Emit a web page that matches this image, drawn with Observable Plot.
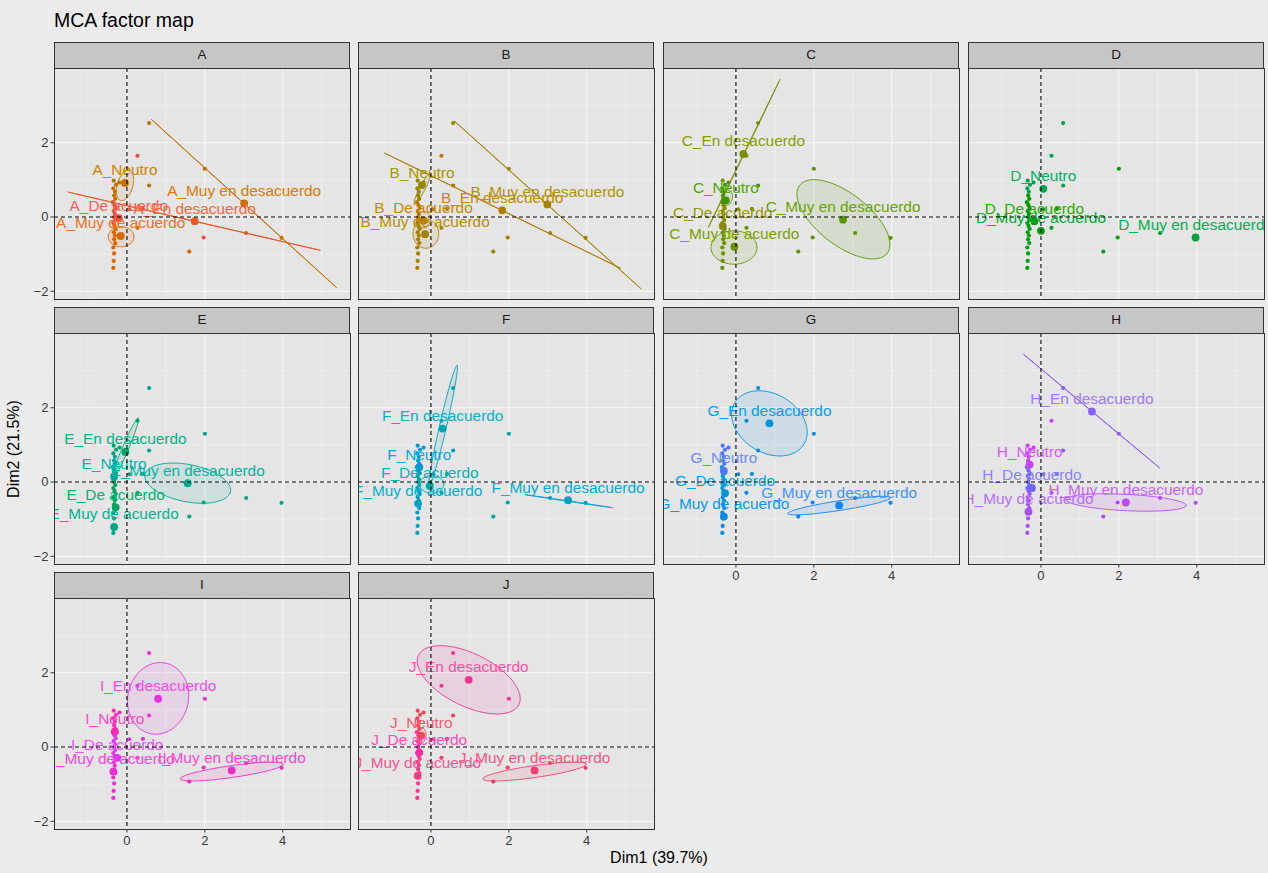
<!DOCTYPE html>
<html>
<head>
<meta charset="utf-8">
<script src="https://cdn.jsdelivr.net/npm/d3@7"></script>
<script src="https://cdn.jsdelivr.net/npm/@observablehq/plot@0.6"></script>
<style>
  body { margin: 0; background: #EBEBEB; font-family: "Liberation Sans", Arial, sans-serif; }
  #chart { position: relative; width: 1268px; height: 873px; background: #EBEBEB; overflow: hidden; }
  .title { position: absolute; left: 54px; top: 9px; font-size: 19.5px; color: #000; white-space: nowrap; }
  .strip { position: absolute; box-sizing: border-box; border: 1px solid #333; background: #C6C6C6;
           color: #1A1A1A; font-size: 13.5px; text-align: center; line-height: 24px; }
  .xtitle { position: absolute; top: 849px; left: 0; width: 1318px; text-align: center; font-size: 16px; color: #000; }
  .ytitle { position: absolute; left: 14px; top: 449px; font-size: 16px; color: #000; white-space: nowrap;
            transform: translate(-50%, -50%) rotate(-90deg); }
</style>
</head>
<body>
<div id="chart">
  <div class="title">MCA factor map</div>
  <div class="xtitle">Dim1 (39.7%)</div>
  <div class="ytitle">Dim2 (21.5%)</div>
</div>
<script>
// ---- data ---------------------------------------------------------------
const variables = ["A", "B", "C", "D", "E", "F", "G", "H", "I", "J"];
const levels = ["De acuerdo", "En desacuerdo", "Muy de acuerdo", "Muy en desacuerdo", "Neutro"];
const levelCodes = ["D", "E", "M", "X", "N"];

// Individuals (rows of the MCA), coordinates on the first two dimensions
const indDim1 = [0.57, 0.27, 2.00, 0.57, 0.06, 0.41, 0.27, 1.97, 3.06, 3.97, 1.60, -0.19,
  -0.34, -0.28, -0.35, -0.31, -0.33, -0.30, -0.36, -0.32, -0.29, -0.34, -0.31, -0.33,
  -0.30, -0.35, -0.32, -0.29, -0.34, -0.31, -0.33, -0.30, -0.35, -0.33, -0.34, -0.35];
const indDim2 = [2.53, 1.65, 1.30, 0.85, 0.21, 0.22, -0.29, -0.55, -0.43, -0.56, -0.93, 0.93,
  0.98, 0.87, 0.77, 0.68, 0.58, 0.49, 0.40, 0.32, 0.24, 0.16, 0.08, 0.00,
  -0.08, -0.16, -0.24, -0.32, -0.41, -0.50, -0.60, -0.70, -0.82, -0.98, -1.18, -1.37];

// Answer of every individual to each variable (one code per individual)
const answers = [
  "XDXNDEMDEXMN" + "NNNNNN" + "DDDDDDDD" + "MMMMMMMMMM", // A
  "XDXEDMMDEXMN" + "NNNNNN" + "DDDDDDDD" + "MMMMMMMMMM", // B
  "EEXNDDMXXXMN" + "ENNNNN" + "DDDDDDDD" + "MMMMMMMMMM", // C
  "NNDNDDMDDXMN" + "NNNNDD" + "DDDDDDMM" + "MMMMMMMMMM", // D
  "NEXXEXDXXXXE" + "EEENNN" + "NNNNDDDD" + "DDDDDDMMMM", // E
  "EEDNEDDDXXDN" + "NNNNNN" + "DDDDDDDD" + "MMMMMMMMMM", // F
  "EEEEDDMXXXXN" + "NNNNNN" + "DDDDDDDD" + "MMMMMMMMMM", // G
  "ENEDDDXXXXXN" + "NNNNNN" + "DDDDDDDD" + "MMMMMMMMMM", // H
  "EEEEDEMXXXXN" + "NNNNNN" + "DDDDDDDD" + "MMMMMMMMMM", // I
  "EEENDDMXXXXN" + "NNNNNN" + "DDDDDDDD" + "MMMMMMMMMM"  // J
];

// Category barycentres
const catVar   = ["A","A","A","A","A", "B","B","B","B","B", "C","C","C","C","C", "D","D","D","D",
                  "E","E","E","E","E", "F","F","F","F","F", "G","G","G","G","G", "H","H","H","H","H",
                  "I","I","I","I","I", "J","J","J","J","J"];
const catLevel = ["D","E","M","X","N", "D","E","M","X","N", "D","E","M","X","N", "D","M","X","N",
                  "D","E","M","X","N", "D","E","M","X","N", "D","E","M","X","N", "D","E","M","X","N",
                  "D","E","M","X","N", "D","E","M","X","N"];
const catDim1  = [-0.21, 1.74, -0.16, 3.01, -0.05,  -0.19, 1.83, -0.15, 2.99, -0.23,
                  -0.34, 0.19, -0.04, 2.75, -0.26,  -0.17, 0.00, 3.97, 0.06,
                  -0.29, -0.04, -0.33, 1.56, -0.33,  -0.03, 0.30, -0.33, 3.52, -0.30,
                  -0.28, 0.86, -0.31, 2.65, -0.31,  -0.23, 1.31, -0.32, 2.18, -0.29,
                  -0.25, 0.80, -0.35, 2.69, -0.31,  -0.30, 0.97, -0.34, 2.66, -0.25];
const catDim2  = [-0.03, -0.11, -0.51, 0.37, 0.92,  -0.09, 0.18, -0.46, 0.34, 0.86,
                  -0.24, 1.70, -0.80, -0.07, 0.45,  -0.11, -0.37, -0.55, 0.76,
                  -0.68, 0.81, -1.21, -0.03, 0.15,  -0.10, 1.44, -0.58, -0.49, 0.40,
                  -0.30, 1.58, -0.93, -0.63, 0.30,  -0.16, 1.90, -0.80, -0.55, 0.47,
                  -0.29, 1.30, -0.66, -0.63, 0.42,  -0.15, 1.81, -0.77, -0.63, 0.31];

// Confidence ellipses: centre, semi-axes and orientation (degrees)
const ellVar   = ["A","A","A","A", "B","B","B","B","B", "C","C","C","C", "E","E", "F","F","F",
                  "G","G", "H","H", "I","I", "J","J","J"];
const ellLevel = ["N","M","E","X", "N","D","M","E","X", "E","N","M","X", "E","X", "E","D","X",
                  "E","X", "E","X", "E","X", "E","N","X"];
const ellCx    = [-0.05, -0.15, 1.72, 3.00,  -0.225, -0.19, -0.13, 1.835, 2.995,  0.21, -0.23, -0.05, 2.76,
                  -0.05, 1.56,  0.315, 0.02, 3.535,  0.86, 2.65,  1.30, 2.18,  0.80, 2.69,  0.97, -0.23, 2.66];
const ellCy    = [0.85, -0.53, -0.11, 0.37,  0.76, -0.07, -0.45, 0.175, 0.33,  1.71, 0.52, -0.82, -0.06,
                  0.88, -0.03,  1.525, -0.06, -0.515,  1.58, -0.635,  1.91, -0.55,  1.31, -0.66,  1.81, 0.31, -0.66];
const ellA     = [0.42, 0.33, 3.33, 3.28,  0.47, 0.22, 0.39, 3.41, 3.29,  2.19, 0.21, 0.59, 1.45,
                  0.91, 1.12,  1.65, 0.31, 1.13,  1.05, 1.34,  2.32, 1.55,  0.97, 1.34,  1.45, 0.20, 1.34];
const ellB     = [0.20, 0.27, 0.004, 0.004,  0.07, 0.18, 0.33, 0.004, 0.004,  0.008, 0.14, 0.45, 0.68,
                  0.08, 0.50,  0.09, 0.24, 0.006,  0.78, 0.13,  0.004, 0.22,  0.78, 0.16,  0.70, 0.10, 0.16];
const ellAngle = [75, 0, -13.6, -43.6,  64, 90, 90, -27.1, -43.3,  65.2, 80, 0, -40,
                  68, -12,  77.6, 0, -8.9,  -35, 9.2,  -41.2, -3,  80, 8.5,  -28, 85, 8.5];

// Axis breaks
const xTicks = [0, 2, 4];
const xMinor = [-1, 1, 3, 5];
const yTicks = [-2, 0, 2];
const yMinor = [-1, 1, 3];
const xDomain = [-1.86, 5.74];
const yDomain = [-2.22, 4.0];

// ---- helpers ------------------------------------------------------------
// polar CIE-LUV (as used by R's hcl()) to sRGB hex
function hcl2hex(h, c, l) {
  const hr = h * Math.PI / 180;
  const U = c * Math.cos(hr), V = c * Math.sin(hr);
  const Xn = 95.047, Yn = 100, Zn = 108.883;
  const Y = l > 8 ? Yn * Math.pow((l + 16) / 116, 3) : Yn * l / 903.3;
  const den = Xn + 15 * Yn + 3 * Zn;
  const un = 4 * Xn / den, vn = 9 * Yn / den;
  const up = U / (13 * l) + un, vp = V / (13 * l) + vn;
  const X = Y * 9 * up / (4 * vp);
  const Z = Y * (12 - 3 * up - 20 * vp) / (4 * vp);
  const x = X / 100, y = Y / 100, z = Z / 100;
  const lin = [
    3.240479 * x - 1.537150 * y - 0.498535 * z,
    -0.969256 * x + 1.875992 * y + 0.041556 * z,
    0.055648 * x - 0.204043 * y + 1.057311 * z
  ];
  const gam = v => {
    v = Math.max(0, Math.min(1, v));
    return v <= 0.0031308 ? 12.92 * v : 1.055 * Math.pow(v, 1 / 2.4) - 0.055;
  };
  return d3.rgb(...lin.map(v => Math.round(gam(v) * 255))).formatHex();
}
// a touch more saturation than the plain wheel
function vivid(hex, k) {
  const c = d3.hsl(hex);
  c.s = Math.min(1, c.s * k);
  return c.formatHex();
}

// discrete hue wheel over all 50 categories
function hueFor(vi, code) {
  const li = levelCodes.indexOf(code);
  return 15 + 360 * (vi * levels.length + li) / (variables.length * levels.length);
}
const pointColor = (vi, code) => vivid(hcl2hex(hueFor(vi, code), 100, 55), 1.25);
const textColor = (vi, code) => vivid(hcl2hex(hueFor(vi, code), 100, 61), 1.2);

function ellipsePath(cx, cy, a, b, angleDeg) {
  const th = angleDeg * Math.PI / 180, n = 90;
  return d3.range(n + 1).map(i => {
    const t = 2 * Math.PI * i / n;
    return {
      x: cx + a * Math.cos(t) * Math.cos(th) - b * Math.sin(t) * Math.sin(th),
      y: cy + a * Math.cos(t) * Math.sin(th) + b * Math.sin(t) * Math.cos(th)
    };
  });
}

// ---- layout -------------------------------------------------------------
const colLeft = [54, 358, 663, 968];
const rowTop = [42, 307, 572];
const panelW = 296, panelH = 231, stripH = 26;
const mL = 32, mR = 4, mT = 2, mB = 24;
const chart = document.getElementById("chart");

variables.forEach((v, vi) => {
  const col = vi % 4, row = Math.floor(vi / 4);
  const left = colLeft[col], top = rowTop[row] + stripH;
  const showY = col === 0;
  const showX = vi >= 6;

  const inds = indDim1.map((x, i) => ({
    x, y: indDim2[i], color: pointColor(vi, answers[vi][i])
  }));
  const cats = catVar.map((cv, i) => ({ v: cv, code: catLevel[i], x: catDim1[i], y: catDim2[i] }))
    .filter(d => d.v === v)
    .map(d => ({ ...d, label: v + "_" + levels[levelCodes.indexOf(d.code)],
                 color: pointColor(vi, d.code), tcolor: textColor(vi, d.code) }));
  const ells = ellVar.map((ev, i) => ({ v: ev, i })).filter(d => d.v === v).map(({ i }) => ({
    pts: ellipsePath(ellCx[i], ellCy[i], ellA[i], ellB[i], ellAngle[i]),
    color: pointColor(vi, ellLevel[i])
  }));

  const marks = [
    Plot.frame({ fill: "#E5E5E5" }),
    Plot.ruleX(xMinor, { stroke: "#F3F3F3", strokeWidth: 0.6 }),
    Plot.ruleY(yMinor, { stroke: "#F3F3F3", strokeWidth: 0.6 }),
    Plot.ruleX(xTicks, { stroke: "#F7F7F7", strokeWidth: 1.1 }),
    Plot.ruleY(yTicks, { stroke: "#F7F7F7", strokeWidth: 1.1 }),
    Plot.dot(inds, { x: "x", y: "y", fill: "color", r: 2.1, stroke: null, clip: true }),
    ...ells.map(e => Plot.line(e.pts, {
      x: "x", y: "y", stroke: e.color, fill: e.color, fillOpacity: 0.1,
      strokeWidth: 0.9, curve: "linear", clip: true
    })),
    Plot.dot(cats, { x: "x", y: "y", fill: "color", r: 3.9, stroke: null, clip: true }),
    Plot.text(cats, { x: "x", y: "y", text: "label", fill: "tcolor", fontSize: 15.4, dy: -12.5, clip: true }),
    Plot.ruleX([0], { stroke: "#000", strokeWidth: 1.1, strokeDasharray: "4,3" }),
    Plot.ruleY([0], { stroke: "#000", strokeWidth: 1.1, strokeDasharray: "4,3" }),
    Plot.frame({ stroke: "#333", strokeWidth: 1 })
  ];
  if (showY) marks.push(Plot.axisY(yTicks, {
    anchor: "left", tickSize: 3.5, tickPadding: 2.5, fontSize: 13, color: "#3A3A3A", label: null
  }));
  if (showX) marks.push(Plot.axisX(xTicks, {
    anchor: "bottom", tickSize: 3.5, tickPadding: 2.5, fontSize: 13, color: "#3A3A3A", label: null
  }));

  const svg = Plot.plot({
    width: panelW + mL + mR,
    height: panelH + mT + mB,
    marginLeft: mL, marginRight: mR, marginTop: mT, marginBottom: mB,
    x: { domain: xDomain, axis: null },
    y: { domain: yDomain, axis: null },
    color: { type: "identity" },
    style: { background: "transparent", fontFamily: "'Liberation Sans', Arial, sans-serif", overflow: "visible" },
    marks
  });
  svg.style.position = "absolute";
  svg.style.left = (left - mL) + "px";
  svg.style.top = (top - mT) + "px";
  svg.style.maxWidth = "none";
  chart.appendChild(svg);

  const strip = document.createElement("div");
  strip.className = "strip";
  strip.style.left = left + "px";
  strip.style.top = rowTop[row] + "px";
  strip.style.width = panelW + "px";
  strip.style.height = (stripH + 1) + "px";
  strip.textContent = v;
  chart.appendChild(strip);
});
</script>
</body>
</html>
